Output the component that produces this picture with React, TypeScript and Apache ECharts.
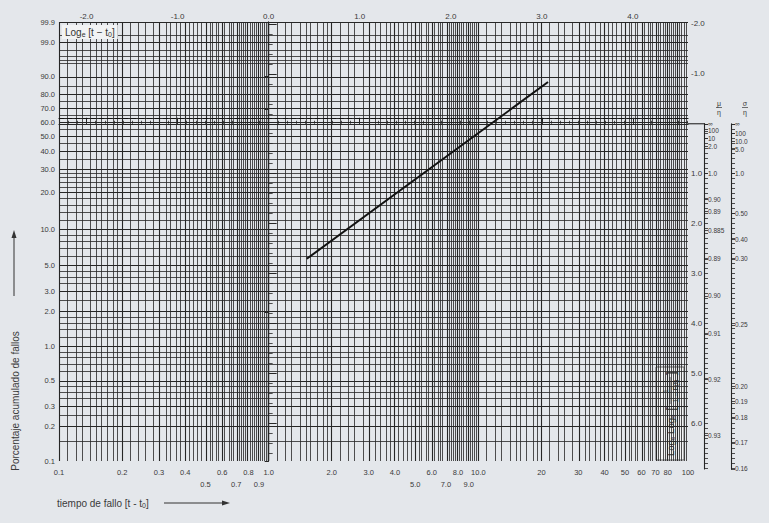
import React, { useEffect, useRef } from "react";
import * as echarts from "echarts";

// ---- data ----
const timeLabels = [0.1, 0.2, 0.3, 0.4, 0.5, 0.6, 0.7, 0.8, 0.9, 1, 2, 3, 4, 5, 6, 7, 8, 9, 10, 20, 30, 40, 50, 60, 70, 80, 90, 100];
const timeLabelsLowRow = [0.5, 0.7, 0.9, 5, 7, 9];
const lnTimeLabels = [-2, -1, 0, 1, 2, 3, 4];
const pctLabels = [99.9, 99, 90, 80, 70, 60, 50, 40, 30, 20, 10, 5, 3, 2, 1, 0.5, 0.3, 0.2, 0.1];
const pctGrid = [99.9, 99.5, 99, 98, 97, 96, 95, 90, 85, 80, 75, 70, 65, 60, 55, 50, 45, 40, 35, 30, 28, 26, 24, 22, 20, 18, 16, 14, 12, 10, 9, 8, 7, 6, 5, 4.5, 4, 3.5, 3, 2.5, 2, 1.8, 1.6, 1.4, 1.2, 1, 0.9, 0.8, 0.7, 0.6, 0.5, 0.45, 0.4, 0.35, 0.3, 0.25, 0.2, 0.15, 0.1];
const rightLabels = [-2, -1, 1, 2, 3, 4, 5, 6];
const muLabels = ["∞", "100", "10", "2.0", "1.0", "0.90", "0.89", "0.885", "0.89", "0.90", "0.91", "0.92", "0.93"];
const muPos = [0, 0.14, 0.29, 0.46, 1.0, 1.52, 1.75, 2.13, 2.71, 3.45, 4.21, 5.13, 6.24];
const sigmaLabels = ["∞", "100", "10.0", "5.0", "1.0", "0.50", "0.40", "0.30", "0.25", "0.20", "0.19", "0.18", "0.17", "0.16"];
const sigmaPos = [0, 0.2, 0.36, 0.52, 1.0, 1.79, 2.31, 2.71, 4.03, 5.27, 5.57, 5.89, 6.38, 6.92];
const fitTime = [1.52, 21.5];
const fitPct = [5.7, 87.3];
const dashedPct = [63.2];

// ---- probability-paper transforms ----
const lx = (t: number) => Math.log10(t);
const wy = (p: number) => Math.log(-Math.log(1 - p / 100));

const nearest = (arr: number[], v: number) => {
  let bi = 0;
  let bd = Infinity;
  arr.forEach((a, i) => {
    const d = Math.abs(a - v);
    if (d < bd) { bd = d; bi = i; }
  });
  return bi;
};

const FONT = "'Liberation Sans', Arial, sans-serif";
const TXT = "#3a3a3a";
const LINE = "#262626";

const G_LEFT = 59, G_TOP = 22, G_W = 629, G_H = 439;
const R_MIN = -2.04, R_MAX = 6.76;
const PX_PER_UNIT = G_H / (R_MAX - R_MIN);
const MU_TOP = G_TOP + (0 - R_MIN) * PX_PER_UNIT;
const MU_MAX = 6.92;
const MU_H = MU_MAX * PX_PER_UNIT;

export default function App() {
  const ref = useRef<HTMLDivElement>(null);
  useEffect(() => {
    const chart = echarts.init(ref.current!, null, { renderer: "svg" });

    // grid line positions (the printed paper)
    const mant: number[] = [];
    for (let i = 10; i <= 20; i++) mant.push(i / 10);
    for (let i = 22; i <= 98; i += 2) mant.push(i / 10);
    const vLines: any[] = [];
    [-1, 0, 1].forEach((k) => {
      mant.forEach((m) => {
        const major = Math.abs(m - Math.round(m)) < 1e-9;
        vLines.push({
          xAxis: lx(m * Math.pow(10, k)),
          lineStyle: { type: "solid", color: LINE, width: major ? 1.1 : 0.8 },
        });
      });
    });
    const hLines: any[] = pctGrid.map((p) => ({
      yAxis: wy(p),
      lineStyle: { type: "solid", color: LINE, width: pctLabels.includes(p) ? 1.1 : 0.8 },
    }));
    const dashed = dashedPct.map((p) => ({
      yAxis: wy(p),
      lineStyle: { type: [5, 3], color: "#111", width: 1.1 },
    }));

    const lnMinor: number[] = [];
    for (let i = -23; i <= 46; i++) lnMinor.push(i / 10);
    const rMinor: number[] = [];
    for (let i = -10; i <= 33; i++) rMinor.push(i / 5);
    const scaleTicks: number[] = [];
    for (let i = 0; i <= 69; i++) scaleTicks.push(i / 10);

    const labelBase = { fontSize: 7.5, color: TXT, fontFamily: FONT, showMinLabel: true, showMaxLabel: true };

    const option: any = {
      animation: false,
      backgroundColor: "#e4e7eb",
      textStyle: { fontFamily: FONT },
      grid: [
        { left: G_LEFT, top: G_TOP, width: G_W, height: G_H },
        { left: G_LEFT, top: G_TOP, width: G_W, height: G_H },
        { left: 704, top: MU_TOP, width: 1, height: MU_H },
        { left: 731, top: MU_TOP, width: 1, height: MU_H },
      ],
      xAxis: [
        {
          type: "value", gridIndex: 0, position: "bottom", min: lx(0.1), max: lx(100),
          axisLine: { show: true, lineStyle: { color: LINE, width: 1.2 } },
          axisTick: { show: false }, splitLine: { show: false },
          axisLabel: {
            ...labelBase, margin: 5, lineHeight: 12, hideOverlap: false,
            customValues: timeLabels.map(lx),
            formatter: (v: number) => {
              const t = timeLabels[nearest(timeLabels.map(lx), v)];
              const s = t < 20 ? t.toFixed(1) : String(t);
              return timeLabelsLowRow.includes(t) ? "\n" + s : s;
            },
          },
        },
        {
          type: "value", gridIndex: 0, position: "top", min: Math.log(0.1), max: Math.log(100),
          axisLine: { show: true, lineStyle: { color: LINE, width: 1.2 } },
          axisTick: { show: true, customValues: lnMinor, length: 3, lineStyle: { color: LINE, width: 0.8 } },
          axisLabel: { show: false }, splitLine: { show: false },
        },
        {
          type: "value", gridIndex: 1, position: "top", min: Math.log(0.1), max: Math.log(100),
          axisLine: { show: false },
          axisTick: { show: true, customValues: lnTimeLabels, length: 6, lineStyle: { color: LINE, width: 1 } },
          axisLabel: { ...labelBase, fontSize: 8, margin: 2, customValues: lnTimeLabels, formatter: (v: number) => v.toFixed(1) },
          splitLine: { show: false },
        },
        { type: "value", gridIndex: 2, show: false, min: 0, max: 1 },
        { type: "value", gridIndex: 3, show: false, min: 0, max: 1 },
      ],
      yAxis: [
        {
          type: "value", gridIndex: 0, position: "left", min: wy(0.1), max: wy(99.9),
          axisLine: { show: true, lineStyle: { color: LINE, width: 1.2 } },
          axisTick: { show: true, customValues: pctLabels.map(wy), length: 4, lineStyle: { color: LINE } },
          axisLabel: {
            ...labelBase, margin: 4,
            customValues: pctLabels.map(wy),
            formatter: (v: number) => pctLabels[nearest(pctLabels.map(wy), v)].toFixed(1),
          },
          splitLine: { show: false },
        },
        {
          type: "value", gridIndex: 0, position: "right", inverse: true, min: R_MIN, max: R_MAX,
          axisLine: { show: true, lineStyle: { color: LINE, width: 1.2 } },
          axisTick: { show: true, customValues: rMinor, length: 4, lineStyle: { color: LINE, width: 0.8 } },
          axisLabel: { show: false }, splitLine: { show: false },
        },
        {
          type: "value", gridIndex: 1, position: "right", inverse: true, min: R_MIN, max: R_MAX,
          axisLine: { show: false },
          axisTick: { show: true, customValues: rightLabels, length: 8, lineStyle: { color: LINE, width: 1 } },
          axisLabel: { ...labelBase, fontSize: 8, margin: 3, customValues: rightLabels, formatter: (v: number) => v.toFixed(1) },
          splitLine: { show: false },
        },
        {
          type: "value", gridIndex: 2, position: "right", inverse: true, min: 0, max: MU_MAX,
          axisLine: { show: true, lineStyle: { color: LINE, width: 1.1 } },
          axisTick: { show: true, customValues: scaleTicks.concat(muPos), length: 4, lineStyle: { color: LINE, width: 0.8 } },
          axisLabel: {
            ...labelBase, fontSize: 6.5, margin: 3, customValues: muPos,
            formatter: (v: number) => muLabels[nearest(muPos, v)],
          },
          splitLine: { show: false },
        },
        {
          type: "value", gridIndex: 3, position: "right", inverse: true, min: 0, max: MU_MAX,
          axisLine: { show: true, lineStyle: { color: LINE, width: 1.1 } },
          axisTick: { show: true, customValues: scaleTicks.concat(sigmaPos), length: 4, lineStyle: { color: LINE, width: 0.8 } },
          axisLabel: {
            ...labelBase, fontSize: 6.5, margin: 3, customValues: sigmaPos,
            formatter: (v: number) => sigmaLabels[nearest(sigmaPos, v)],
          },
          splitLine: { show: false },
        },
      ],
      series: [
        {
          type: "line", xAxisIndex: 0, yAxisIndex: 0, data: [], z: 1, silent: true,
          markLine: {
            silent: true, symbol: ["none", "none"], animation: false,
            label: { show: false }, emphasis: { disabled: true },
            data: [...vLines, ...hLines, ...dashed],
          },
        },
        {
          type: "line", xAxisIndex: 0, yAxisIndex: 0, z: 10, symbol: "none",
          lineStyle: { color: "#111", width: 2 },
          data: fitTime.map((t, i) => [lx(t), wy(fitPct[i])]),
        },
        { type: "line", xAxisIndex: 2, yAxisIndex: 2, data: [] },
        { type: "line", xAxisIndex: 3, yAxisIndex: 3, data: [] },
        { type: "line", xAxisIndex: 4, yAxisIndex: 4, data: [] },
      ],
      graphic: [
        {
          type: "text", left: 62, top: 25, z: 20,
          style: {
            text: "{a|Log}{s|e}{a| [t − t}{s|0}{a|]}",
            rich: {
              a: { fontSize: 10, fill: "#333", fontFamily: FONT, lineHeight: 12 },
              s: { fontSize: 7, fill: "#333", fontFamily: FONT, lineHeight: 12, padding: [5, 0, 0, 0] },
            },
            backgroundColor: "#f2f3f4", padding: [1, 3, 1, 3],
          },
        },
        {
          type: "group", x: 684, y: 460, rotation: Math.PI / 2, z: 20,
          children: [
            { type: "rect", shape: { x: 0, y: -28, width: 93, height: 28 }, style: { fill: "#f2f3f4", stroke: "#444", lineWidth: 0.8 } },
            {
              type: "text", x: 4, y: -14,
              style: {
                text: "{a|Log}{s|e}{a| Log}{s|e}{b| [}",
                verticalAlign: "middle",
                rich: {
                  a: { fontSize: 9.5, fill: "#333", fontFamily: FONT },
                  s: { fontSize: 6.5, fill: "#333", fontFamily: FONT, padding: [5, 0, 0, 0] },
                  b: { fontSize: 13, fill: "#333", fontFamily: FONT },
                },
              },
            },
            { type: "text", x: 69, y: -19, style: { text: "1", fontSize: 7, fill: "#333", fontFamily: FONT, align: "center", verticalAlign: "middle" } },
            { type: "line", shape: { x1: 56, y1: -14, x2: 83, y2: -14 }, style: { stroke: "#333", lineWidth: 0.8 } },
            { type: "text", x: 69, y: -8.5, style: { text: "1 − F(t)", fontSize: 7, fill: "#333", fontFamily: FONT, align: "center", verticalAlign: "middle" } },
            { type: "text", x: 85, y: -14, style: { text: "]", fontSize: 13, fill: "#333", fontFamily: FONT, verticalAlign: "middle" } },
          ],
        },
        {
          type: "line", z: 5,
          shape: { x1: G_LEFT + G_W, y1: MU_TOP, x2: 705, y2: MU_TOP },
          style: { stroke: LINE, lineWidth: 1.1 },
        },
        { type: "text", x: 719, y: 103, style: { text: "μ", fontSize: 7, fill: TXT, fontFamily: FONT, align: "center", verticalAlign: "middle" } },
        { type: "line", shape: { x1: 716, y1: 107.5, x2: 722, y2: 107.5 }, style: { stroke: TXT, lineWidth: 0.7 } },
        { type: "text", x: 719, y: 112.5, style: { text: "η", fontSize: 7, fill: TXT, fontFamily: FONT, align: "center", verticalAlign: "middle" } },
        { type: "text", x: 745, y: 103, style: { text: "σ", fontSize: 7, fill: TXT, fontFamily: FONT, align: "center", verticalAlign: "middle" } },
        { type: "line", shape: { x1: 742, y1: 107.5, x2: 748, y2: 107.5 }, style: { stroke: TXT, lineWidth: 0.7 } },
        { type: "text", x: 745, y: 112.5, style: { text: "η", fontSize: 7, fill: TXT, fontFamily: FONT, align: "center", verticalAlign: "middle" } },
        {
          type: "text", x: 15, y: 401, rotation: Math.PI / 2,
          style: { text: "Porcentaje acumulado de fallos", fontSize: 10, fill: TXT, fontFamily: FONT, align: "center", verticalAlign: "middle" },
        },
        { type: "line", shape: { x1: 14, y1: 296, x2: 14, y2: 236 }, style: { stroke: "#333", lineWidth: 1 } },
        { type: "polygon", shape: { points: [[14, 230], [11.5, 238], [16.5, 238]] }, style: { fill: "#333" } },
        {
          type: "text", x: 57, y: 503,
          style: {
            text: "{a|tiempo de fallo [t - t}{s|0}{a|]}",
            verticalAlign: "middle",
            rich: {
              a: { fontSize: 10, fill: TXT, fontFamily: FONT },
              s: { fontSize: 7, fill: TXT, fontFamily: FONT, padding: [5, 0, 0, 0] },
            },
          },
        },
        { type: "line", shape: { x1: 164, y1: 503, x2: 224, y2: 503 }, style: { stroke: "#333", lineWidth: 1 } },
        { type: "polygon", shape: { points: [[230, 503], [222, 500.5], [222, 505.5]] }, style: { fill: "#333" } },
      ],
    };

    chart.setOption(option);
    return () => chart.dispose();
  }, []);
  return <div ref={ref} style={{ position: "fixed", left: 0, top: 0, width: 769, height: 523 }} />;
}
